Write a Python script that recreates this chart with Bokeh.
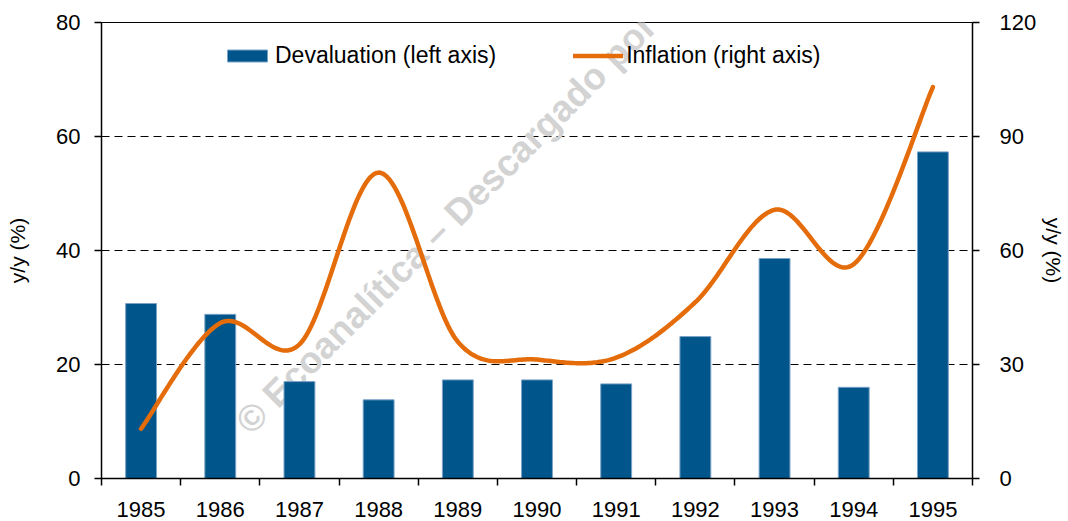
import numpy as np
from bokeh.plotting import figure
from bokeh.models import Range1d, LinearAxis, FixedTicker, Legend, LegendItem, Label
from bokeh.embed import file_html
from bokeh.resources import INLINE

# ---- data ----
years = [1985, 1986, 1987, 1988, 1989, 1990, 1991, 1992, 1993, 1994, 1995]
devaluation = [30.7, 28.8, 17.0, 13.8, 17.3, 17.3, 16.6, 24.9, 38.6, 16.0, 57.3]
inflation = [13.1, 40.9, 35.3, 80.5, 36.0, 31.3, 31.8, 46.4, 70.7, 56.4, 103.0]
left_ticks = [0, 20, 40, 60, 80]
right_ticks = [0, 30, 60, 90, 120]
grid_ticks = [20, 40, 60, 80]
bar_label = "Devaluation (left axis)"
line_label = "Inflation (right axis)"
axis_title = "y/y (%)"
watermark = "© Ecoanalítica – Descargado por"

FONT = "Liberation Sans"
BLUE = "#00558A"
ORANGE = "#E46C0A"


def smooth(xs, ys, n=40):
    """Excel-style smoothed line (Catmull-Rom as cubic Bezier) through the data points."""
    xs = np.asarray(xs, float)
    ys = np.asarray(ys, float)
    px = np.concatenate([[xs[0]], xs, [xs[-1]]])
    py = np.concatenate([[ys[0]], ys, [ys[-1]]])
    outx, outy = [], []
    m = len(xs) - 1
    for i in range(m):
        p0x, p1x, p2x, p3x = px[i:i + 4]
        p0y, p1y, p2y, p3y = py[i:i + 4]
        c1x = p1x + (p2x - p0x) / 6.0
        c1y = p1y + (p2y - p0y) / 6.0
        c2x = p2x - (p3x - p1x) / 6.0
        c2y = p2y - (p3y - p1y) / 6.0
        t = np.linspace(0, 1, n, endpoint=(i == m - 1))
        a = (1 - t) ** 3
        b = 3 * (1 - t) ** 2 * t
        c = 3 * (1 - t) * t ** 2
        d = t ** 3
        outx.extend(a * p1x + b * c1x + c * c2x + d * p2x)
        outy.extend(a * p1y + b * c1y + c * c2y + d * p2y)
    return outx, outy


p = figure(width=1068, height=521,
           x_range=Range1d(years[0] - 0.5, years[-1] + 0.5),
           y_range=Range1d(left_ticks[0], left_ticks[-1]),
           output_backend="svg", toolbar_location=None,
           min_border_left=101, min_border_right=91,
           min_border_top=22, min_border_bottom=43)
p.extra_y_ranges = {"right": Range1d(right_ticks[0], right_ticks[-1])}
p.background_fill_color = "white"
p.border_fill_color = "white"
p.outline_line_color = "black"
p.outline_line_width = 1

# grid
p.xgrid.visible = False
p.ygrid[0].ticker = FixedTicker(ticks=grid_ticks)
p.ygrid.grid_line_color = "black"
p.ygrid.grid_line_width = 1
p.ygrid.grid_line_dash = "8 5"

# watermark
wm = Label(x=141, y=51, x_units="screen", y_units="screen", text=watermark,
           angle=45, angle_units="deg", text_font=FONT, text_font_size="37px",
           text_font_style="bold", text_color="#D3D3D3", text_baseline="alphabetic",
           text_align="left", level="underlay")
p.add_layout(wm)

# bars
r_bar = p.vbar(x=years, top=devaluation, bottom=0, width=0.39,
               fill_color=BLUE, line_color="#7BA3C8", line_width=1)

# smoothed line
sx, sy = smooth(years, inflation)
r_line = p.line(sx, sy, y_range_name="right", line_color=ORANGE,
                line_width=4.5, line_cap="round", line_join="round")

# x axis
xa = p.xaxis[0]
xa.ticker = FixedTicker(ticks=years,
                        minor_ticks=[y - 0.5 for y in years] + [years[-1] + 0.5])
xa.major_label_overrides = {y: str(y) for y in years}
xa.major_tick_out = 0
xa.major_tick_in = 0
xa.minor_tick_out = 7
xa.minor_tick_in = 0
xa.minor_tick_line_color = "black"
xa.minor_tick_line_width = 1.5
xa.axis_line_color = "black"
xa.axis_line_width = 1.5
xa.major_label_standoff = 16
xa.major_label_text_font = FONT
xa.major_label_text_font_size = "22px"
xa.major_label_text_color = "black"

# left axis
ya = p.yaxis[0]
ya.ticker = FixedTicker(ticks=left_ticks)
ya.major_tick_out = 7
ya.major_tick_in = 0
ya.minor_tick_line_color = None
ya.major_tick_line_color = "black"
ya.major_tick_line_width = 1.5
ya.axis_line_color = "black"
ya.axis_line_width = 1.5
ya.major_label_standoff = 14
ya.major_label_text_font = FONT
ya.major_label_text_font_size = "22px"
ya.major_label_text_color = "black"
ya.axis_label = axis_title
ya.axis_label_standoff = 24
ya.axis_label_text_font = FONT
ya.axis_label_text_font_size = "21px"
ya.axis_label_text_font_style = "normal"
ya.axis_label_text_color = "black"

# right axis
ra = LinearAxis(y_range_name="right", ticker=FixedTicker(ticks=right_ticks))
ra.major_tick_out = 7
ra.major_tick_in = 0
ra.minor_tick_line_color = None
ra.major_tick_line_color = "black"
ra.major_tick_line_width = 1.5
ra.axis_line_color = "black"
ra.axis_line_width = 1.5
ra.major_label_standoff = 20
ra.major_label_text_font = FONT
ra.major_label_text_font_size = "22px"
ra.major_label_text_color = "black"
ra.axis_label = axis_title
ra.axis_label_standoff = 3
ra.axis_label_text_font = FONT
ra.axis_label_text_font_size = "21px"
ra.axis_label_text_font_style = "normal"
ra.axis_label_text_color = "black"
p.add_layout(ra, "right")

# legend
legend = Legend(items=[LegendItem(label=bar_label, renderers=[r_bar]),
                       LegendItem(label=line_label, renderers=[r_line])],
                location=(121, 409), orientation="horizontal",
                glyph_width=50, glyph_height=15, label_standoff=3, spacing=77,
                padding=0, margin=0, border_line_color=None,
                background_fill_alpha=0, label_text_font=FONT,
                label_text_font_size="23px", label_text_color="black")
p.add_layout(legend)

open("out.html", "w").write(file_html(p, INLINE))
